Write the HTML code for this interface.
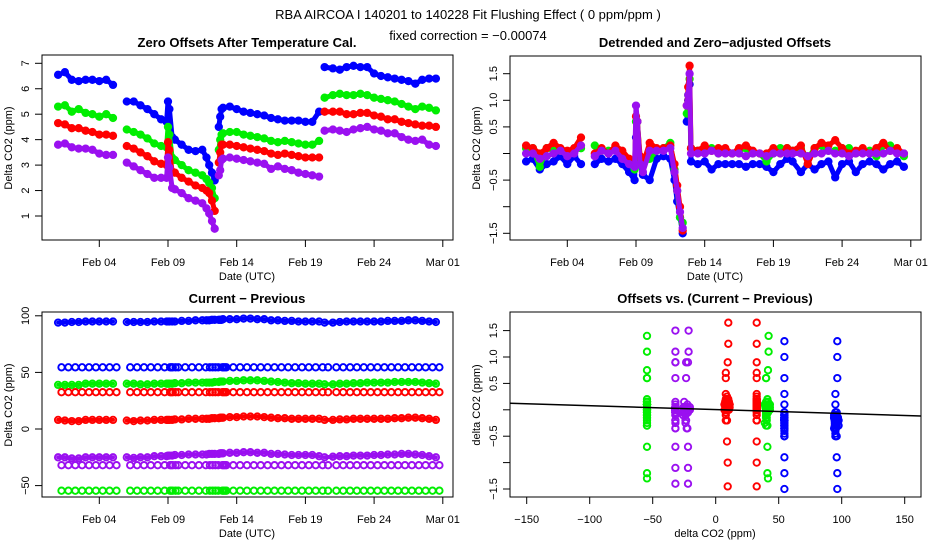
<!DOCTYPE html>
<html><head><meta charset="utf-8">
<style>
html,body{margin:0;padding:0;background:#fff;}
svg{display:block;font-family:"Liberation Sans",sans-serif;}
text{fill:#000;}
.tt{font-size:13px;}
.pt{font-size:13px;font-weight:bold;}
.tk{font-size:11px;}
.al{font-size:11px;}
</style></head>
<body>
<svg id="chart" width="936" height="540" viewBox="0 0 936 540" xmlns="http://www.w3.org/2000/svg">
<defs>
<clipPath id="c1"><rect x="42" y="55" width="411" height="185"/></clipPath>
<clipPath id="c2"><rect x="510" y="56" width="411" height="184"/></clipPath>
<clipPath id="c3"><rect x="42" y="312" width="411" height="185"/></clipPath>
<clipPath id="c4"><rect x="510" y="312" width="411" height="185"/></clipPath>
</defs>
<text class="tt" x="468" y="19" text-anchor="middle">RBA   AIRCOA I   140201 to 140228   Fit Flushing Effect ( 0 ppm/ppm )</text>
<text class="tt" x="468" y="40" text-anchor="middle">fixed correction = −0.00074</text>

<text class="pt" x="247" y="47" text-anchor="middle">Zero Offsets After Temperature Cal.</text>
<text class="pt" x="715" y="47" text-anchor="middle">Detrended and Zero−adjusted Offsets</text>
<text class="pt" x="247" y="303" text-anchor="middle">Current − Previous</text>
<text class="pt" x="715" y="303" text-anchor="middle">Offsets vs. (Current − Previous)</text>

<text class="al" x="247" y="280" text-anchor="middle">Date (UTC)</text>
<text class="al" x="715" y="280" text-anchor="middle">Date (UTC)</text>
<text class="al" x="247" y="537" text-anchor="middle">Date (UTC)</text>
<text class="al" x="715" y="537" text-anchor="middle">delta CO2 (ppm)</text>
<text class="al" transform="translate(12,148) rotate(-90)" text-anchor="middle">Delta CO2 (ppm)</text>
<text class="al" transform="translate(480,148) rotate(-90)" text-anchor="middle">Delta CO2 (ppm)</text>
<text class="al" transform="translate(12,405) rotate(-90)" text-anchor="middle">Delta CO2 (ppm)</text>
<text class="al" transform="translate(480,405) rotate(-90)" text-anchor="middle">delta CO2 (ppm)</text>

<g id="g1" clip-path="url(#c1)"></g>
<g id="g2" clip-path="url(#c2)"></g>
<g id="g3" clip-path="url(#c3)"></g>
<g id="g4" clip-path="url(#c4)"></g>
<g id="axes"></g>
</svg>
<script>
// shared sample times (day of February 2014)
const T=[1.0,1.5,2.0,2.5,3.0,3.5,4.0,4.5,5.0, 6.0,6.5,7.0,7.5,8.0,8.5, 8.9,9.0,9.1,9.3,9.5, 10.0,10.5,11.0,11.5, 11.8,12.0,12.2,12.4, 12.7,12.8,12.9,13.0, 13.5,14.0,14.5,15.0,15.5,16.0,16.5,17.0,17.5,18.0,18.5,19.0,19.5,20.0, 20.4, 21.0,21.5,22.0,22.5,23.0,23.5,24.0,24.5,25.0,25.5,26.0,26.5,27.0,27.5,28.0,28.5];
// data gaps: no measurements between these times and the next sample
const gapStarts=[5.0,12.4,20.0];
// panel 1: zero offsets after temperature cal.
const p1Blue=[6.55,6.65,6.35,6.3,6.35,6.35,6.3,6.35,6.15, 5.5,5.5,5.35,5.2,5.0,4.8, 4.7,5.5,5.2,4.1,4.0, 3.8,3.6,3.55,3.6, 3.3,3.0,2.7,2.4, 4.5,4.9,5.2,5.25, 5.3,5.2,5.1,5.05,5.0,4.95,4.85,4.8,4.75,4.75,4.75,4.7,4.7,5.1, 6.85, 6.8,6.75,6.85,6.9,6.85,6.85,6.6,6.5,6.45,6.4,6.35,6.3,6.2,6.35,6.4,6.4];
const p1Green=[5.3,5.35,5.1,5.2,5.05,5.0,4.9,5.0,4.85, 4.4,4.3,4.2,4.05,3.85,3.75, 3.7,4.5,4.2,3.3,3.2, 3.0,2.8,2.7,2.6, 2.45,2.3,2.1,1.7, 3.6,4.0,4.2,4.25, 4.3,4.3,4.2,4.15,4.1,4.05,3.95,3.9,3.95,3.9,3.85,3.8,3.8,3.95, 5.65, 5.75,5.8,5.75,5.75,5.8,5.75,5.65,5.6,5.55,5.5,5.4,5.3,5.2,5.3,5.25,5.15];
const p1Red=[4.65,4.6,4.45,4.45,4.35,4.3,4.2,4.2,4.15, 3.75,3.65,3.5,3.35,3.15,3.05, 3.0,3.9,3.6,2.75,2.7, 2.5,2.35,2.2,2.1, 2.0,1.9,1.6,1.2, 3.1,3.5,3.8,3.8, 3.8,3.75,3.7,3.65,3.6,3.55,3.45,3.4,3.45,3.4,3.35,3.3,3.3,3.3, 5.1, 5.1,5.1,5.0,5.0,5.05,5.05,4.95,4.9,4.8,4.8,4.7,4.65,4.6,4.55,4.55,4.5];
const p1Purple=[3.8,3.85,3.7,3.65,3.65,3.6,3.45,3.4,3.4, 3.1,2.95,2.8,2.65,2.5,2.5, 2.5,3.3,2.9,2.1,2.05, 1.9,1.7,1.6,1.5, 1.3,1.1,0.8,0.5, 2.6,2.8,3.2,3.25, 3.3,3.25,3.2,3.15,3.1,3.05,2.85,2.95,2.85,2.8,2.7,2.65,2.6,2.55, 4.35, 4.4,4.35,4.3,4.4,4.45,4.5,4.4,4.35,4.25,4.25,4.1,4.0,3.95,4.0,3.8,3.75];
// panel 2: detrended offsets
const p2Blue=[-0.15,-0.1,-0.3,-0.2,-0.15,-0.05,-0.2,-0.05,-0.2, -0.2,-0.1,-0.15,-0.1,-0.2,-0.35, -0.5,0.3,0.1,-0.2,-0.4, -0.5,-0.1,-0.05,-0.1, -0.5,-0.9,-1.2,-1.5, 0.6,1.0,1.3,-0.15, -0.2,-0.15,-0.3,-0.2,-0.2,-0.2,-0.2,-0.25,-0.2,-0.2,-0.25,-0.35,-0.2,-0.1, -0.15, -0.35,-0.2,-0.3,-0.2,-0.15,-0.45,-0.2,-0.15,-0.35,-0.2,-0.15,-0.2,-0.3,-0.2,-0.15,-0.25];
const p2Green=[0.1,0.1,-0.25,0.1,0.05,0.05,0,0.05,0.1, 0.15,0.05,0.05,0.1,-0.05,-0.15, -0.3,0.6,0.6,-0.1,-0.2, -0.1,0.05,0.1,0.2, -0.3,-0.7,-1.2,-1.3, 0.75,1.1,1.4,0.1, 0.05,0.05,0.1,0,0.05,0,0.05,0.1,0,0.0,-0.15,0,0.1,0.1, 0.05, 0.1,-0.1,0.1,0.15,0.05,0.05,0.1,0.1,0.0,0.05,0.05,-0.05,0.15,0.15,0.05,-0.05];
const p2Red=[0.15,0.1,0.0,0.1,0.2,0.1,0.05,0.1,0.3, 0.0,0.1,0.0,0.15,0.05,-0.1, -0.2,0.7,0.6,-0.05,-0.2, 0.2,0.1,0.1,0.15, -0.2,-0.6,-1.0,-1.45, 0.9,1.25,1.65,0.1, 0.05,0.15,0.05,0.1,0.1,0.0,0.1,0.15,0.05,0.0,0.0,0.1,0.0,0.1, 0.05, 0.15,-0.2,0.1,0.2,0.15,0.25,0.1,0.0,0.05,0.1,0.0,0.1,0.2,0.05,0.1,0.0];
const p2Purple=[0.0,0.0,-0.1,-0.05,0.0,0.05,-0.05,0.0,0.15, -0.05,0.05,0.0,0.05,-0.1,-0.2, -0.25,0.9,0.6,-0.2,-0.35, 0.05,0.05,0.05,0.1, -0.35,-0.7,-1.1,-1.4, 0.9,1.1,1.5,0.0, 0.0,0.0,0.05,0.0,0.0,0.0,0.0,-0.05,0.0,0.0,-0.05,0.0,0.0,0.0, 0.0, 0.0,-0.05,0.0,0.0,0.05,0.0,0.0,-0.05,0.0,0.0,0.0,0.0,0.0,0.05,0.0,0.0];
// panel 3: current - previous (main levels)
const p3Blue=[94,94,94.5,94.5,95,95,95,95,95, 94.5,94.5,94.5,94.5,95,95, 95,95,95,95,95, 95.5,95.5,96,96, 96,96,96.5,96.5, 96.5,96.5,96.5,97, 97,97,97.5,97.5,97,97,96,96,95.5,95.5,95,95,95,95, 94, 94,94.5,95,95,95,95,95,95,95.5,95.5,95.5,96,96,95.5,95,94.5];
const p3Green=[39,39,39,39,40,40,40,40,40, 40,40,39.5,39.5,40,40, 40,40,40,40,40.5, 40.5,41,41,41, 41,41,41,41.5, 41.5,42,42,42, 42.5,42.5,43,43,43,42.5,42,41.5,41,40.5,40.5,40,40,40, 39.5, 39.5,40,40,40.5,40.5,41,41,41,41,41.5,41.5,41.5,41.5,41,40.5,40];
const p3Red=[8,7.5,7,7,8,8,8,8,8, 7.5,7,7.5,7.5,8,8, 8,8,8,8,8.5, 8.5,9,9,9, 9,9,9.5,9.5, 9.5,10,10,10, 10.5,10.5,11,11,11,10.5,10,9.5,9.5,9,9,9,9,9, 8, 8,8.5,8.5,9,9,9,9,9,9,9.5,9.5,10,10,9.5,9,8];
const p3Purple=[-25,-25,-26,-26,-25,-25,-25,-25,-25, -25,-25.5,-25,-25,-24,-24, -24,-23.5,-23.5,-23.5,-23, -23,-22.5,-22.5,-22.5, -22.5,-22,-22,-22, -22,-21.5,-21.5,-21.5, -21,-21,-20.5,-20.5,-21,-21,-22,-22,-22.5,-23,-23,-23,-23,-24, -25, -24.5,-24,-24,-23.5,-23.5,-23.5,-23,-23,-22.5,-22.5,-22,-22,-22.5,-23,-24,-25];
// panel 3: alternate (sparse) levels per series: blue, green, red, purple
const altLevels=[54.5,-54.5,32.5,-32];
// panel 4: fitted flushing line
const fitSlope=-0.00074;
const fitIntercept=0.004;
// tick labels
const dateTicks=[4,9,14,19,24,29];
const dateTickLabels=["Feb 04","Feb 09","Feb 14","Feb 19","Feb 24","Mar 01"];
const p1YTicks=[1,2,3,4,5,6,7];
const p2YTicks=[-1.5,-1.0,-0.5,0,0.5,1.0,1.5];
const p2YTickLabels=["−1.5","","−0.5","","0.5","1.0","1.5"];
const p3YTicks=[-50,0,50,100];
const p3YTickLabels=["−50","0","50","100"];
const p4XTicks=[-150,-100,-50,0,50,100,150];
const p4XTickLabels=["−150","−100","−50","0","50","100","150"];

const colors=["#0000ff","#00ee00","#ff0000","#9a10f0"];
const names=["blue","green","red","purple"];
const P1=[p1Blue,p1Green,p1Red,p1Purple];
const P2=[p2Blue,p2Green,p2Red,p2Purple];
const P3=[p3Blue,p3Green,p3Red,p3Purple];

const NS="http://www.w3.org/2000/svg";
function xDate(t,off){return off+99.3+(t-4)*13.74;}
function y1(v){return 216-(v-1)*25.45;}
function y2(v){return 153.5-v*53.2;}
function y3(v){return 429-v*1.132;}
function y4(v){return 409.8-v*52.8;}
function x4(v){return 715.7+v*1.26;}

function mark(g,x,y,c,nm){
  const e=document.createElementNS(NS,"circle");
  e.setAttribute("cx",x.toFixed(1));e.setAttribute("cy",y.toFixed(1));
  e.setAttribute("r","3.2");e.setAttribute("fill","none");
  e.setAttribute("stroke",c);e.setAttribute("stroke-width","1.9");
  
  
  g.appendChild(e);
}
function band(g,xs,ys,c,w,nm){
  for(let i=1;i<xs.length;i++){
    if(gapStarts.indexOf(T[i-1])>=0) continue;
    const e=document.createElementNS(NS,"line");
    e.setAttribute("x1",xs[i-1].toFixed(1));e.setAttribute("y1",ys[i-1].toFixed(1));
    e.setAttribute("x2",xs[i].toFixed(1));e.setAttribute("y2",ys[i].toFixed(1));
    e.setAttribute("stroke",c);e.setAttribute("stroke-width",w);e.setAttribute("stroke-linecap","round");
    
    
    g.appendChild(e);
  }
}
const g1=document.getElementById("g1"),g2=document.getElementById("g2"),g3=document.getElementById("g3"),g4=document.getElementById("g4");
for(let s=0;s<4;s++){
  band(g1,T.map(t=>xDate(t,0)),P1[s].map(y1),colors[s],5,"offset-band-"+names[s]);
  band(g2,T.map(t=>xDate(t,468)),P2[s].map(y2),colors[s],5,"detrended-band-"+names[s]);
  band(g3,T.map(t=>xDate(t,0)),P3[s].map(y3),colors[s],4,"diff-band-"+names[s]);
  for(let i=0;i<T.length;i++){
    mark(g1,xDate(T[i],0),y1(P1[s][i]),colors[s],"offset-point-"+names[s]);
    mark(g2,xDate(T[i],468),y2(P2[s][i]),colors[s],"detrended-point-"+names[s]);
    mark(g3,xDate(T[i],0),y3(P3[s][i]),colors[s],"diff-point-"+names[s]);
    mark(g3,xDate(T[i]+0.25,0),y3(altLevels[s]),colors[s],"diff-alt-point-"+names[s]);
  }
}
for(let s=0;s<4;s++){
  for(let i=0;i<T.length;i++){
    mark(g4,x4(P3[s][i]),y4(P2[s][i]),colors[s],"scatter-point-"+names[s]);
    mark(g4,x4(altLevels[s]),y4(P2[s][(i+7)%T.length]),colors[s],"scatter-alt-point-"+names[s]);
  }
}
const fl=document.createElementNS(NS,"line");
fl.setAttribute("x1",x4(-170));fl.setAttribute("y1",y4(fitIntercept+fitSlope*-170));
fl.setAttribute("x2",x4(170));fl.setAttribute("y2",y4(fitIntercept+fitSlope*170));
fl.setAttribute("stroke","#000");fl.setAttribute("stroke-width","1.5");


g4.appendChild(fl);

const ax=document.getElementById("axes");
function el(tag,attrs,txt){const e=document.createElementNS(NS,tag);for(const k in attrs)e.setAttribute(k,attrs[k]);if(txt!==undefined)e.textContent=txt;ax.appendChild(e);return e;}
function box(x,y,w,h,nm){const e=el("rect",{x:x,y:y,width:w,height:h,fill:"none",stroke:"#000","stroke-width":1});
  
  }
box(42,55,411,185,"panel1-frame");box(510,56,411,184,"panel2-frame");box(42,312,411,185,"panel3-frame");box(510,312,411,185,"panel4-frame");
function xTick(x,yb,label,nm){
  const l=el("line",{x1:x,y1:yb,x2:x,y2:yb+7,stroke:"#000"});
  
  
  const t=el("text",{x:x,y:yb+26,"text-anchor":"middle","class":"tk"},label);
  
  
}
function yTick(xl,y,label,nm){
  const l=el("line",{x1:xl,y1:y,x2:xl-7,y2:y,stroke:"#000"});
  
  
  if(label!==""){
    const t=el("text",{transform:"translate("+(xl-13)+","+y+") rotate(-90)","text-anchor":"middle","class":"tk"},label);
    
    
  }
}
for(let i=0;i<dateTicks.length;i++){
  xTick(xDate(dateTicks[i],0),240,dateTickLabels[i],"panel1-x");
  xTick(xDate(dateTicks[i],468),240,dateTickLabels[i],"panel2-x");
  xTick(xDate(dateTicks[i],0),497,dateTickLabels[i],"panel3-x");
}
for(let i=0;i<p4XTicks.length;i++) xTick(x4(p4XTicks[i]),497,p4XTickLabels[i],"panel4-x");
for(const v of p1YTicks) yTick(42,y1(v),String(v),"panel1-y");
for(let i=0;i<p2YTicks.length;i++){yTick(510,y2(p2YTicks[i]),p2YTickLabels[i],"panel2-y");yTick(510,y4(p2YTicks[i]),p2YTickLabels[i],"panel4-y");}
for(let i=0;i<p3YTicks.length;i++) yTick(42,y3(p3YTicks[i]),p3YTickLabels[i],"panel3-y");
</script>
</body></html>
